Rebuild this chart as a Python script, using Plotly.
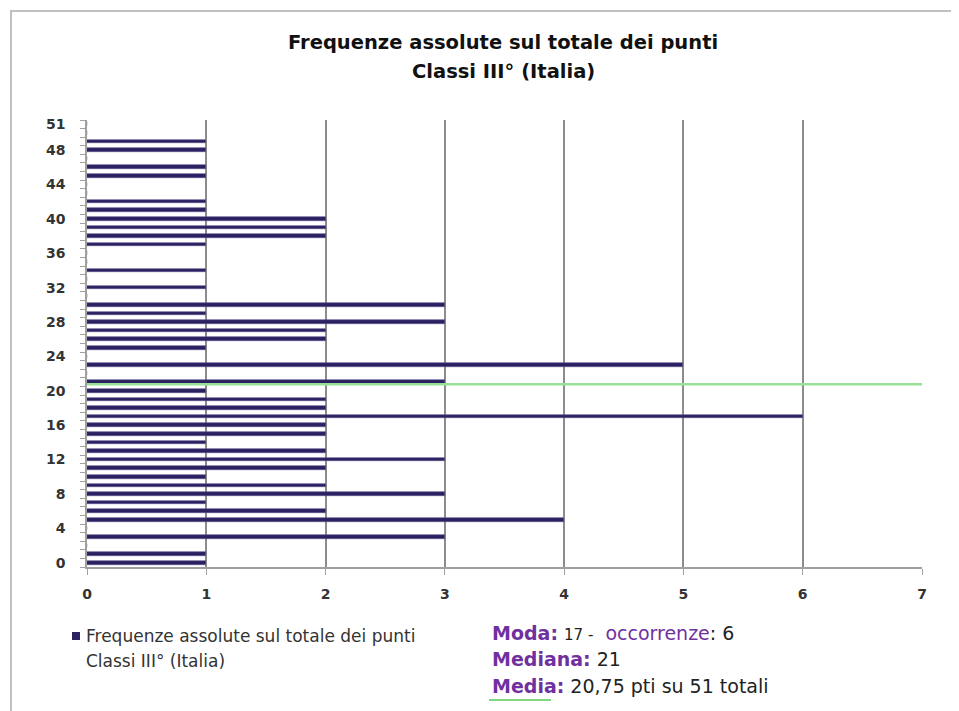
import plotly.graph_objects as go

# Data
punti = list(range(0, 52))
frequenze = [1, 1, 0, 3, 0, 4, 2, 1, 3, 2,
             1, 2, 3, 2, 1, 2, 2, 6, 2, 2,
             1, 3, 0, 5, 0, 1, 2, 2, 3, 1,
             3, 0, 1, 0, 1, 0, 0, 1, 2, 2,
             2, 1, 1, 0, 0, 1, 1, 0, 1, 1,
             0, 0]
media = 20.75
y_tick_vals = [0, 4, 8, 12, 16, 20, 24, 28, 32, 36, 40, 44, 48, 51]
x_tick_vals = [0, 1, 2, 3, 4, 5, 6, 7]
serie_riga1 = "Frequenze assolute sul totale dei punti"
serie_riga2 = "Classi III° (Italia)"
titolo_riga1 = "Frequenze assolute sul totale dei punti"
titolo_riga2 = "Classi III° (Italia)"

# layout geometry (figure pixels; page has 8px body margin)
W, H = 951, 703
L, T, PW, PH = 79, 112, 835, 447
OFF = 8


def px(xs):
    return (xs - OFF - L) / PW


def py(ys):
    return (T + PH - (ys - OFF)) / PH


font_f = "'DejaVu Sans', sans-serif"

fig = go.Figure()
fig.add_trace(go.Bar(
    x=frequenze, y=punti, orientation="h", width=0.42,
    marker=dict(color="#2a2160", line=dict(color="#5a5290", width=0.6)),
    name=serie_riga1, showlegend=False,
))

fig.add_shape(type="line", xref="paper", yref="y", x0=0, x1=1, y0=media, y1=media,
              line=dict(color="#98e098", width=2.5), layer="above")

# chart border
fig.add_shape(type="rect", xref="paper", yref="paper",
              x0=px(11), x1=1.4, y0=-0.5, y1=py(11),
              line=dict(color="#c0c0c0", width=2), layer="below")

tick_font = dict(family=font_f, size=14, color="#333")
fig.update_layout(
    width=W, height=H,
    margin=dict(l=L, r=W - L - PW, t=T, b=H - T - PH),
    paper_bgcolor="white", plot_bgcolor="white",
    bargap=0, showlegend=False,
    xaxis=dict(range=[0, 7], tickvals=x_tick_vals,
               ticktext=[f"<b>{v}</b>" for v in x_tick_vals],
               showgrid=True, gridcolor="#8c8c8c",
               gridwidth=1.5, showline=True, linecolor="#a0a0a0", linewidth=1.5,
               ticks="outside", ticklen=6, tickcolor="#a0a0a0", zeroline=False,
               tickfont=tick_font, ticklabelstandoff=7),
    yaxis=dict(range=[-0.5, 51.5], tickvals=y_tick_vals,
               ticktext=[f"<b>{v}</b>" for v in y_tick_vals], showgrid=False,
               showline=True, linecolor="#a0a0a0", linewidth=1.5, ticks="",
               zeroline=False, ticklabelstandoff=17,
               minor=dict(tickvals=[k + 0.5 for k in range(-1, 52)], ticks="outside",
                          ticklen=5, tickcolor="#a0a0a0"),
               tickfont=tick_font),
    font=dict(family=font_f),
)

# title (two lines)
tfont = dict(family=font_f, size=19.5, color="#111")
fig.add_annotation(xref="paper", yref="paper", x=px(503), y=py(42), xanchor="center",
                   yanchor="middle", showarrow=False, text=f"<b>{titolo_riga1}</b>", font=tfont)
fig.add_annotation(xref="paper", yref="paper", x=px(503), y=py(72), xanchor="center",
                   yanchor="middle", showarrow=False, text=f"<b>{titolo_riga2}</b>", font=tfont)

# legend (manual)
fig.add_shape(type="rect", xref="paper", yref="paper",
              x0=px(72), x1=px(80), y0=py(640), y1=py(632),
              fillcolor="#2a2160", line=dict(width=0))
lfont = dict(family=font_f, size=17, color="#333")
fig.add_annotation(xref="paper", yref="paper", x=px(84), y=py(636), xanchor="left",
                   yanchor="middle", showarrow=False, text=serie_riga1, font=lfont)
fig.add_annotation(xref="paper", yref="paper", x=px(84), y=py(661), xanchor="left",
                   yanchor="middle", showarrow=False, text=serie_riga2, font=lfont)

purple = "#7030a0"
ann_font = dict(family=font_f, size=19, color="#222")
fig.add_annotation(xref="paper", yref="paper", x=px(490), y=py(633), xanchor="left", yanchor="middle",
                   showarrow=False, align="left", font=ann_font,
                   text=f"<b><span style='color:{purple}'>Moda:</span></b> <span style='font-size:15px'>17 -</span>  <span style='color:{purple}'>occorrenze</span>: 6")
fig.add_annotation(xref="paper", yref="paper", x=px(490), y=py(659), xanchor="left", yanchor="middle",
                   showarrow=False, align="left", font=ann_font,
                   text=f"<b><span style='color:{purple}'>Mediana:</span></b> 21")
fig.add_annotation(xref="paper", yref="paper", x=px(490), y=py(686), xanchor="left", yanchor="middle",
                   showarrow=False, align="left", font=ann_font,
                   text=f"<b><span style='color:{purple}'>Media:</span></b> 20,75 pti su 51 totali")
fig.add_shape(type="line", xref="paper", yref="paper", x0=px(489), x1=px(551), y0=py(700), y1=py(700),
              line=dict(color="#7ed67e", width=2))

fig.write_html("out.html")
